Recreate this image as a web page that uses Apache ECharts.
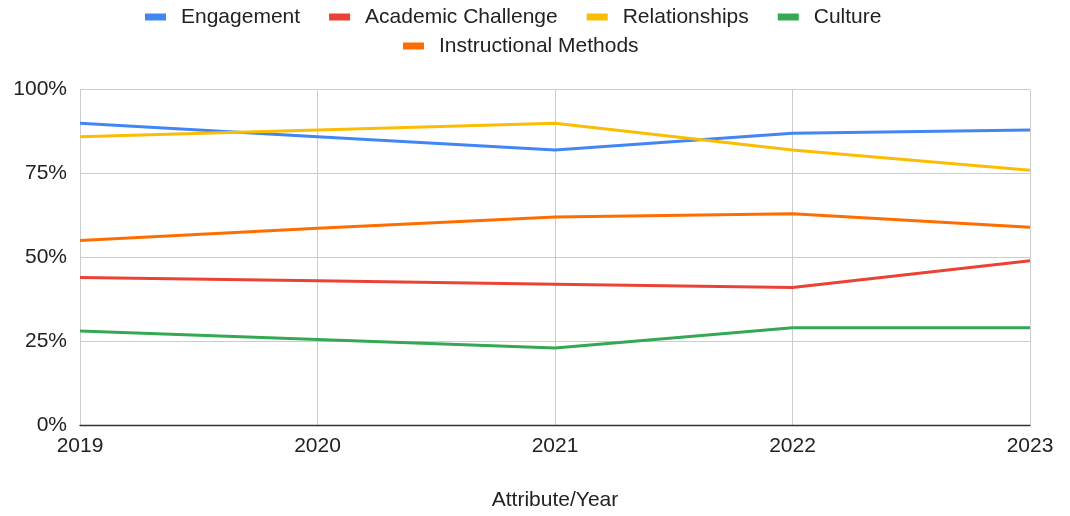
<!DOCTYPE html>
<html>
<head>
<meta charset="utf-8">
<script src="https://cdn.jsdelivr.net/npm/echarts@6/dist/echarts.min.js"></script>
<style>
html,body{margin:0;padding:0;background:#fff;}
#chart{width:1070px;height:516px;}
</style>
</head>
<body>
<div id="chart"></div>
<script>
var years = ['2019', '2020', '2021', '2022', '2023'];
var engagement = [90, 86, 82, 87, 88];
var academicChallenge = [44, 43, 42, 41, 49];
var relationships = [86, 88, 90, 82, 76];
var culture = [28, 25.5, 23, 29, 29];
var instructionalMethods = [55, 58.7, 62, 63, 59];
var yTicks = [0, 25, 50, 75, 100];

var FONT = '"Liberation Sans", Arial, sans-serif';
var chart = echarts.init(document.getElementById('chart'));

function line(name, data, color) {
  return {
    name: name, type: 'line', data: data, showSymbol: false, symbol: 'none',
    lineStyle: { color: color, width: 3 }, itemStyle: { color: color },
    animation: false
  };
}

var legendText = { color: '#222', fontSize: 21, fontFamily: FONT, lineHeight: 24, padding: [0, 0, 0, 10] };

chart.setOption({
  animation: false,
  textStyle: { fontFamily: FONT },
  legend: [
    {
      data: ['Engagement', 'Academic Challenge', 'Relationships', 'Culture'],
      left: 145, top: 5, padding: 0, itemWidth: 21, itemHeight: 7, itemGap: 29,
      icon: 'rect', textStyle: legendText
    },
    {
      data: ['Instructional Methods'],
      left: 403, top: 34, padding: 0, itemWidth: 21, itemHeight: 7, itemGap: 29,
      icon: 'rect', textStyle: legendText
    }
  ],
  grid: { left: 80, right: 40, top: 89.7, bottom: 88.3, containLabel: false },
  xAxis: {
    type: 'category', data: years, boundaryGap: false,
    name: 'Attribute/Year', nameLocation: 'middle', nameGap: 65,
    nameTextStyle: { color: '#222', fontSize: 21, fontFamily: FONT },
    axisLine: { show: true, lineStyle: { color: '#333', width: 1.3 } },
    axisTick: { show: false },
    axisLabel: { color: '#222', fontSize: 21, fontFamily: FONT, margin: 11 },
    splitLine: { show: true, lineStyle: { color: '#ccc', width: 1 } }
  },
  yAxis: {
    type: 'value', min: yTicks[0], max: yTicks[yTicks.length - 1], interval: 25,
    axisLine: { show: false }, axisTick: { show: false },
    axisLabel: { color: '#222', fontSize: 21, fontFamily: FONT, margin: 13, formatter: '{value}%' },
    splitLine: { show: true, lineStyle: { color: '#ccc', width: 1 } }
  },
  series: [
    line('Engagement', engagement, '#4285f4'),
    line('Academic Challenge', academicChallenge, '#ea4335'),
    line('Relationships', relationships, '#fbbc04'),
    line('Culture', culture, '#34a853'),
    line('Instructional Methods', instructionalMethods, '#ff6d01')
  ]
});
</script>
</body>
</html>
